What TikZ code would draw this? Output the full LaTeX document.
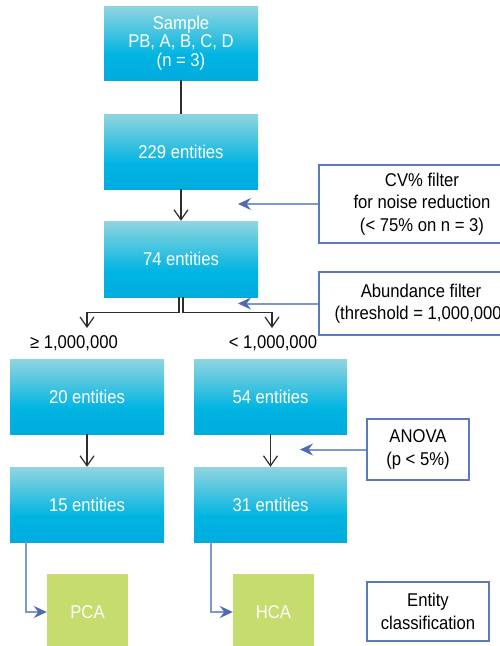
\documentclass[tikz,border=0pt]{standalone}
\usepackage{fontspec}
\setmainfont[FakeStretch=0.9]{Liberation Sans}
\usetikzlibrary{arrows.meta}
\definecolor{ctop}{RGB}{145,213,223}
\definecolor{cmid}{RGB}{0,180,226}
\definecolor{cbot}{RGB}{0,172,222}
\definecolor{cgreen}{RGB}{197,220,110}
\definecolor{cborder}{RGB}{92,122,184}
\definecolor{cline}{RGB}{125,152,204}
\definecolor{ctip}{RGB}{78,108,182}
\definecolor{cdark}{RGB}{45,45,45}
\pgfdeclareverticalshading{boxshade}{100bp}{color(0bp)=(cbot); color(25bp)=(cbot);
  color(42bp)=(cmid); color(60bp)=(ctop!55!cmid); color(75bp)=(ctop); color(100bp)=(ctop)}
\tikzset{
  bluebox/.style={minimum width=154pt, minimum height=75pt, inner sep=0pt,
    text=white, align=center, font=\fontsize{18.5}{18.7}\selectfont,
    shading=boxshade, shading angle=0},
  greenbox/.style={fill=cgreen, minimum width=81pt, minimum height=76pt, inner sep=0pt,
    text=white, font=\fontsize{18.5}{18.7}\selectfont},
  notebox/.style={draw=cborder, line width=1.3pt, fill=white, inner sep=0pt,
    align=center, text=black, font=\fontsize{18.5}{22.5}\selectfont},
  lbl/.style={text=black, font=\fontsize{18.5}{20}\selectfont, inner sep=0pt},
  blk/.style={draw=cdark, line width=1.2pt},
  blkarrow/.style={blk, -{Straight Barb[length=10pt,width=14pt,line width=1.2pt]}},
  bluearrow/.style={draw=cline, line width=2pt,
    -{Stealth[length=13pt,width=12pt,inset=4.5pt,color=ctip]}},
}
\begin{document}
\begin{tikzpicture}[x=1pt,y=-1pt]
\useasboundingbox (0,0) rectangle (499,646);
\fill[white] (0,0) rectangle (499,646);

% main column
\node[bluebox, minimum height=74pt] (sample) at (181,43) {Sample\\PB, A, B, C, D\\(n = 3)};
\node[bluebox] (e229) at (181,151.5) {229 entities};
\node[bluebox, minimum height=76pt] (e74) at (181,259) {74 entities};

\node[bluebox] (e20) at (87,396.5) {20 entities};
\node[bluebox, minimum width=153pt] (e54) at (270.5,396.5) {54 entities};
\node[bluebox] (e15) at (87,504.5) {15 entities};
\node[bluebox, minimum width=153pt] (e31) at (270.5,504.5) {31 entities};

\node[greenbox] (pca) at (87.5,612) {PCA};
\node[greenbox] (hca) at (273.5,612) {HCA};

% labels
\node[lbl] (ge) at (74,343.5) {≥ 1,000,000};
\node[lbl] (lt) at (273,343.5) {< 1,000,000};

% note boxes
\node[notebox, minimum width=206pt, minimum height=78pt] (cv) at (422,204)
  {CV\% filter\\for noise reduction\\(< 75\% on n = 3)};
\node[notebox, minimum width=204pt, minimum height=63pt] (abund) at (421,303.5)
  {Abundance filter\\(threshold = 1,000,000)};
\node[notebox, minimum width=102pt, minimum height=61pt] (anova) at (418,449.5)
  {ANOVA\\(p < 5\%)};
\node[notebox, minimum width=122pt, minimum height=59pt] (ecl) at (428,611.5)
  {Entity\\classification};

% black connectors
\draw[blk] (sample.south) -- (e229.north);
\draw[blkarrow] (e229.south) -- (e74.north);
\coordinate (fl) at (87,328);
\coordinate (fr) at (272,328);
\draw[blkarrow] ([xshift=-2pt]e74.south) -- ++(0,15) -| (fl);
\draw[blkarrow] ([xshift=2pt]e74.south) -- ++(0,15) -| (fr);
\draw[blkarrow] (e20.south) -- (e15.north);
\draw[blkarrow] (e54.south) -- (e31.north);

% blue connectors
\coordinate (cvt) at (238,204);
\coordinate (abt) at (238,303.5);
\coordinate (ant) at (300,449.5);
\draw[bluearrow] (cv.west) -- (cvt);
\draw[bluearrow] (abund.west) -- (abt);
\draw[bluearrow] (anova.west) -- (ant);
\draw[bluearrow] ([xshift=-61pt]e15.south) |- (pca.west);
\draw[bluearrow] ([xshift=-59.5pt]e31.south) |- (hca.west);
\end{tikzpicture}
\end{document}
